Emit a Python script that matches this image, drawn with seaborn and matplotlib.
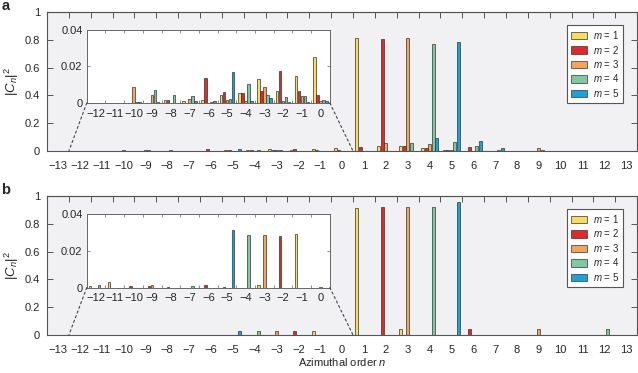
import numpy as np
import pandas as pd
import matplotlib
matplotlib.use('Agg')
import matplotlib.pyplot as plt
import seaborn as sns
from matplotlib.patches import ConnectionPatch

# Azimuthal orders and modes
n_order = list(range(-13, 14))
m_labels = ['$m$ = 1', '$m$ = 2', '$m$ = 3', '$m$ = 4', '$m$ = 5']
colors = ['#f6dc62', '#dc2b2b', '#f3a55d', '#80c9a0', '#1ea2d6']

# Panel a, |C_n|^2 for n = -13..13
a_m1 = [0, 0, 0, 0, 0, 0.0017, 0.001, 0.0017, 0.0046, 0.0055, 0.0132, 0.0064, 0.0148, 0.025,
        0.815, 0.036, 0.034, 0.022, 0.01, 0, 0.003, 0.003, 0, 0, 0, 0, 0]
a_m2 = [0, 0, 0, 0, 0, 0.0017, 0, 0.0134, 0.0062, 0.0055, 0.0064, 0.0174, 0.0064, 0.0046,
        0.029, 0.803, 0.036, 0.022, 0.01, 0.031, 0.003, 0.003, 0, 0, 0, 0, 0]
a_m3 = [0, 0, 0, 0.0086, 0.0046, 0, 0.0024, 0, 0.0018, 0.0013, 0.0088, 0.0008, 0.0037, 0.0008,
        0, 0.06, 0.815, 0.053, 0.01, 0, 0, 0.002, 0.022, 0, 0, 0, 0]
a_m4 = [0, 0, 0, 0.0007, 0.0073, 0.0042, 0.0039, 0.0003, 0.0024, 0.0101, 0.0046, 0.0031, 0.0039, 0.0015,
        0, 0.003, 0.06, 0.772, 0.064, 0.038, 0.006, 0, 0.005, 0.004, 0, 0, 0]
a_m5 = [0, 0, 0, 0.0003, 0.0005, 0, 0.0008, 0.001, 0.017, 0.0008, 0.0028, 0.0005, 0.0005, 0.0008,
        0, 0, 0.003, 0.094, 0.784, 0.074, 0.019, 0, 0, 0, 0, 0, 0]

# Panel b
b_m1 = [0, 0.0007, 0.0032, 0, 0, 0, 0, 0, 0, 0, 0.0013, 0, 0.0295, 0,
        0.911, 0, 0.043, 0, 0, 0, 0, 0, 0, 0, 0, 0, 0]
b_m2 = [0, 0, 0, 0.0006, 0.0006, 0.0003, 0, 0.0013, 0.0003, 0, 0, 0.0284, 0, 0,
        0.003, 0.919, 0, 0, 0.002, 0.043, 0, 0, 0, 0, 0, 0, 0]
b_m3 = [0, 0, 0, 0, 0.0015, 0, 0, 0, 0, 0, 0.0288, 0, 0, 0.0003,
        0, 0, 0.923, 0, 0, 0, 0, 0, 0.045, 0, 0, 0, 0]
b_m4 = [0, 0.0013, 0, 0, 0, 0, 0.0006, 0, 0, 0.029, 0, 0, 0, 0,
        0, 0, 0, 0.923, 0, 0, 0, 0, 0, 0.002, 0, 0.045, 0]
b_m5 = [0, 0, 0, 0, 0, 0, 0, 0, 0.0316, 0, 0, 0, 0, 0,
        0, 0, 0, 0.003, 0.955, 0.003, 0, 0, 0, 0, 0, 0, 0.002]

sns.set_style('white')
plt.rcParams['font.family'] = ['Liberation Sans', 'DejaVu Sans']
plt.rcParams['mathtext.fontset'] = 'custom'
plt.rcParams['mathtext.rm'] = 'Liberation Sans'
plt.rcParams['mathtext.it'] = 'Liberation Sans:italic'


def to_frame(series):
    rows = []
    for lab, vals in zip(m_labels, series):
        for n, v in zip(n_order, vals):
            rows.append((n, lab, v))
    return pd.DataFrame(rows, columns=['n', 'm', 'c'])


def bars(ax, df, legend):
    sns.barplot(data=df, x='n', y='c', hue='m', hue_order=m_labels, palette=colors,
                native_scale=True, gap=0.15, edgecolor='#333333', linewidth=0.5,
                errorbar=None, legend=legend, saturation=1, ax=ax)


fig = plt.figure(figsize=(6.38, 3.73), dpi=100)
edge = '#555555'
fs = 8

panels = [(to_frame([a_m1, a_m2, a_m3, a_m4, a_m5]), 0.595, 0.724, 'a'),
          (to_frame([b_m1, b_m2, b_m3, b_m4, b_m5]), 0.102, 0.229, 'b')]

for df, bottom, in_bottom, letter in panels:
    ax = fig.add_axes([0.0737, bottom, 0.925, 0.3727])
    ax.set_facecolor('#f1f1f3')
    bars(ax, df, 'full')
    ax.set_xlim(-13.5, 13.5)
    ax.set_ylim(0, 1)
    ax.set_xticks(n_order)
    ax.set_xticklabels([str(n).replace('-', '\u2212') for n in n_order])
    ax.set_xticks(np.arange(-12.5, 13), minor=True)
    ax.tick_params(axis='x', which='major', length=0, labelsize=fs, pad=7)
    ax.tick_params(axis='x', which='minor', length=12, direction='inout', width=0.7, color=edge)
    ax.set_yticks([0, 0.2, 0.4, 0.6, 0.8, 1])
    ax.set_yticklabels(['0', '0.2', '0.4', '0.6', '0.8', '1'])
    ax.tick_params(axis='y', direction='in', length=4, width=0.7, color=edge,
                   left=True, right=True, labelsize=fs, pad=5)
    top = ax.secondary_xaxis('top')
    top.set_xticks(np.arange(-12.5, 13))
    top.tick_params(direction='in', length=4, width=0.7, color=edge, labeltop=False)
    top.spines['top'].set_color(edge)
    for s in ax.spines.values():
        s.set_color(edge)
        s.set_linewidth(0.8)
    ax.set_ylabel(r'$|C_n|^2$', fontsize=9.5, labelpad=3)
    ax.set_xlabel('Azimuthal order $n$' if letter == 'b' else '', fontsize=fs, labelpad=1)
    sns.move_legend(ax, 'upper right', bbox_to_anchor=(0.985, 0.94), title=None, frameon=True,
                    fontsize=7, handlelength=1.7, handleheight=0.8, labelspacing=0.25,
                    handletextpad=0.6, borderpad=0.4, fancybox=False, framealpha=1,
                    edgecolor=edge, facecolor='white')
    ax.get_legend().get_frame().set_linewidth(0.8)
    fig.text(0.002, bottom + 0.3727 + 0.035, letter, fontsize=10.5, fontweight='bold', va='top')

    # Zoom inset for n <= 0
    ax_in = fig.add_axes([0.136, in_bottom, 0.381, 0.196])
    ax_in.set_facecolor('white')
    bars(ax_in, df, False)
    ax_in.set_xlim(-12.5, 0.5)
    ax_in.set_ylim(0, 0.04)
    ins_n = list(range(-12, 1))
    ax_in.set_xticks(ins_n)
    ax_in.set_xticklabels([str(n).replace('-', '\u2212') for n in ins_n])
    ax_in.set_xticks(np.arange(-11.5, 0.5), minor=True)
    ax_in.tick_params(axis='x', which='major', length=0, labelsize=fs, pad=4)
    ax_in.tick_params(axis='x', which='minor', direction='in', length=2, width=0.6,
                      color='#777777', top=True, bottom=True)
    ax_in.set_yticks([0, 0.02, 0.04])
    ax_in.set_yticklabels(['0', '0.02', '0.04'])
    ax_in.tick_params(axis='y', direction='in', length=2, width=0.6, color='#777777',
                      left=True, right=True, labelsize=fs, pad=3)
    for s in ax_in.spines.values():
        s.set_color('#666666')
        s.set_linewidth(0.7)
    ax_in.set_xlabel('')
    ax_in.set_ylabel('')

    for x in (-12.5, 0.5):
        con = ConnectionPatch(xyA=(x, 0), coordsA=ax_in.transData, xyB=(x, 0), coordsB=ax.transData,
                              linestyle=(0, (2, 2.5)), color='#444444', linewidth=0.8)
        fig.add_artist(con)

fig.savefig('out.png', dpi=100)
